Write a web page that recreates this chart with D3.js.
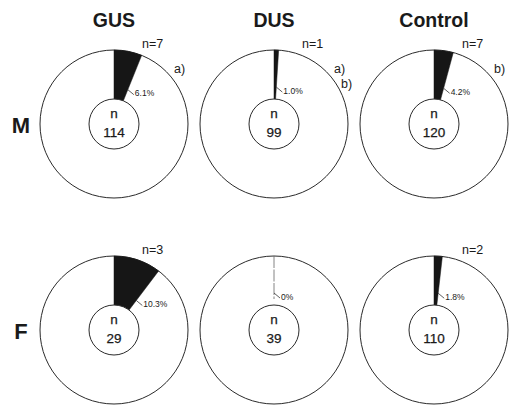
<!DOCTYPE html>
<html>
<head>
<meta charset="utf-8">
<script src="https://cdn.jsdelivr.net/npm/d3@7"></script>
<style>
  html, body { margin: 0; padding: 0; background: #fff; }
  svg { display: block; font-family: "Liberation Sans", Arial, Helvetica, sans-serif; }
</style>
</head>
<body>
<svg id="chart" width="520" height="408"></svg>
<script>
// Study groups (columns) and sexes (rows)
const groups = ["GUS", "DUS", "Control"];
const sexes = ["M", "F"];

// Total animals per cell (row = sex, column = group)
const totalsM = [114, 99, 120];
const totalsF = [29, 39, 110];

// Affected animals per cell
const casesM = [7, 1, 7];
const casesF = [3, 0, 2];

// Percentage affected per cell
const percentM = [6.1, 1.0, 4.2];
const percentF = [10.3, 0, 1.8];
const percentLabelM = ["6.1%", "1.0%", "4.2%"];
const percentLabelF = ["10.3%", "0%", "1.8%"];

// Significance letters shown beside each male circle
const lettersM = [["a)"], ["a)", "b)"], ["b)"]];
const lettersF = [[], [], []];

const totals = [totalsM, totalsF];
const cases = [casesM, casesF];
const percents = [percentM, percentF];
const percentLabels = [percentLabelM, percentLabelF];
const letters = [lettersM, lettersF];

const svg = d3.select("#chart");

const x = d3.scalePoint().domain(groups).range([114, 434]);
const y = d3.scalePoint().domain(sexes).range([124, 330]);
const angle = d3.scaleLinear().domain([0, 100]).range([0, 2 * Math.PI]);

const outerR = 74;
const innerR = 25;

const arc = d3.arc().innerRadius(innerR).outerRadius(outerR);

// Column headings
svg.selectAll("text.group")
  .data(groups)
  .join("text")
  .attr("class", "group")
  .attr("x", d => x(d))
  .attr("y", 27)
  .attr("text-anchor", "middle")
  .attr("font-size", 19.5)
  .attr("font-weight", "bold")
  .attr("fill", "#1a1a1a")
  .text(d => d);

// Row headings
svg.selectAll("text.sex")
  .data(sexes)
  .join("text")
  .attr("class", "sex")
  .attr("x", 21)
  .attr("y", d => y(d) + 9)
  .attr("text-anchor", "middle")
  .attr("font-size", 22)
  .attr("font-weight", "bold")
  .attr("fill", "#1a1a1a")
  .text(d => d);

const cells = [];
sexes.forEach((s, i) => {
  groups.forEach((g, j) => {
    cells.push({
      sex: s, group: g,
      total: totals[i][j], cases: cases[i][j],
      pct: percents[i][j], pctLabel: percentLabels[i][j],
      letters: letters[i][j]
    });
  });
});

const cell = svg.selectAll("g.cell")
  .data(cells)
  .join("g")
  .attr("class", "cell")
  .attr("transform", d => `translate(${x(d.group)},${y(d.sex)})`);

// Outer circle
cell.append("circle")
  .attr("r", outerR)
  .attr("fill", "#fff")
  .attr("stroke", "#2a2a2a")
  .attr("stroke-width", 1);

// Affected share as a dark wedge starting at 12 o'clock
cell.filter(d => d.pct > 0)
  .append("path")
  .attr("d", d => arc({ startAngle: 0, endAngle: angle(d.pct) }))
  .attr("fill", "#161616")
  .attr("stroke", "#161616")
  .attr("stroke-width", 0.5);

// Zero share: a thin radial line in place of the wedge
cell.filter(d => d.pct === 0)
  .append("line")
  .attr("x1", 0).attr("x2", 0)
  .attr("y1", -outerR).attr("y2", -innerR - 6)
  .attr("stroke", "#666")
  .attr("stroke-width", 0.8)
  .attr("stroke-dasharray", "12,1.5");

// Inner circle holding the sample size
cell.append("circle")
  .attr("r", innerR)
  .attr("fill", "#fff")
  .attr("stroke", "#2a2a2a")
  .attr("stroke-width", 1);

cell.append("text")
  .attr("y", -6)
  .attr("text-anchor", "middle")
  .attr("font-size", 13.5)
  .attr("fill", "#1a1a1a")
  .attr("stroke", "#1a1a1a")
  .attr("stroke-width", 0.25)
  .text("n");

cell.append("text")
  .attr("y", 13)
  .attr("text-anchor", "middle")
  .attr("font-size", 13.5)
  .attr("fill", "#1a1a1a")
  .attr("stroke", "#1a1a1a")
  .attr("stroke-width", 0.25)
  .text(d => d.total);

// Count of affected animals
cell.filter(d => d.cases > 0)
  .append("text")
  .attr("x", 28)
  .attr("y", -76)
  .attr("font-size", 12.5)
  .attr("fill", "#1a1a1a")
  .text(d => `n=${d.cases}`);

// Percentage label with a short leader from the wedge edge
const leaderR = 37;
function edgePoint(d) {
  const a = angle(d.pct);
  return [leaderR * Math.sin(a), -leaderR * Math.cos(a)];
}
cell.append("path")
  .attr("d", d => {
    const [px, py] = edgePoint(d);
    return `M${px},${py}L${px + 6},${py + 5}`;
  })
  .attr("fill", "none")
  .attr("stroke", "#333")
  .attr("stroke-width", 0.8);

cell.append("text")
  .attr("x", d => edgePoint(d)[0] + 7)
  .attr("y", d => edgePoint(d)[1] + 6.5)
  .attr("font-size", 8.5)
  .attr("fill", "#1a1a1a")
  .text(d => d.pctLabel);

// Significance letters
cell.each(function (d) {
  d3.select(this).selectAll("text.letter")
    .data(d.letters)
    .join("text")
    .attr("class", "letter")
    .attr("x", (l, k) => 60 + k * 7)
    .attr("y", (l, k) => -51 + k * 15)
    .attr("font-size", 12.5)
    .attr("fill", "#1a1a1a")
    .text(l => l);
});
</script>
</body>
</html>
